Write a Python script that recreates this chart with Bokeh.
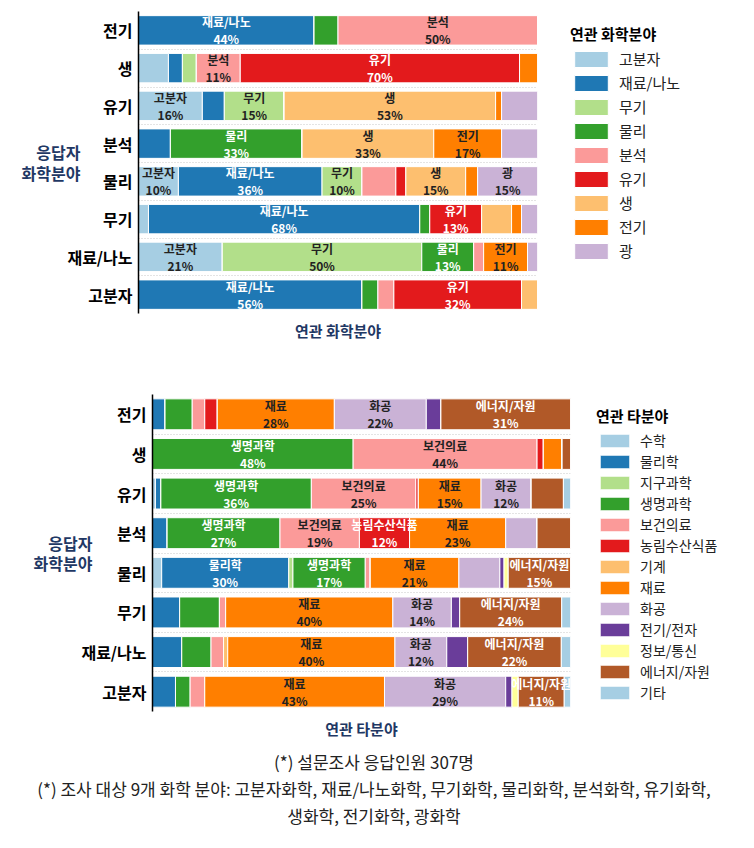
from bokeh.plotting import figure
from bokeh.models import (ColumnDataSource, Legend, LegendItem, Div, FactorRange,
                          Range1d, FixedTicker)
from bokeh.embed import file_html
from bokeh.resources import INLINE
from bokeh.core.properties import value

FONT = "Noto Sans CJK KR"
NAVY = "#1F3864"

# ---------------- data ----------------
rows = ["전기", "생", "유기", "분석", "물리", "무기", "재료/나노", "고분자"]

chem_fields = ["고분자", "재료/나노", "무기", "물리", "분석", "유기", "생", "전기", "광"]
chem_colors = ["#a6cee3", "#1f78b4", "#b2df8a", "#33a02c", "#fb9a99", "#e31a1c",
               "#fdbf6f", "#ff7f00", "#cab2d6"]
chem_elec = [0, 44, 0, 6, 50, 0, 0, 0, 0]
chem_bio = [7.5, 3.5, 3.5, 0, 11, 70, 0, 4.5, 0]
chem_org = [16, 5.5, 15, 0, 0, 0, 53, 1.5, 9]
chem_anal = [0, 8, 0, 33, 0, 0, 33, 17, 9]
chem_phys = [10, 36, 10, 0, 8.5, 2.5, 15, 3, 15]
chem_inorg = [2.5, 68, 0, 2.5, 0, 13, 7.5, 2.5, 4]
chem_mat = [21, 0, 50, 13, 2.5, 0, 0, 11, 2.5]
chem_poly = [0, 56, 0, 4, 4, 32, 4, 0, 0]

other_fields = ["수학", "물리학", "지구과학", "생명과학", "보건의료", "농림수산식품", "기계",
                "재료", "화공", "전기/전자", "정보/통신", "에너지/자원", "기타"]
other_colors = ["#a6cee3", "#1f78b4", "#b2df8a", "#33a02c", "#fb9a99", "#e31a1c",
                "#fdbf6f", "#ff7f00", "#cab2d6", "#6a3d9a", "#ffff99", "#b15928", "#a6cee3"]
other_elec = [0, 3, 0, 6.5, 3, 3, 0, 28, 22, 3.5, 0, 31, 0]
other_bio = [0, 0, 0, 48, 44, 1.5, 0, 4.5, 0, 0, 0, 2, 0]
other_org = [0.7, 1.3, 0, 36, 25, 0.6, 0, 15, 12, 0, 0, 7.7, 1.7]
other_anal = [0, 3.5, 0, 27, 19, 12, 0, 23, 7.5, 0, 0, 8, 0]
other_phys = [2.2, 30.4, 1, 17.3, 1.2, 0, 0, 21.2, 9.8, 1, 1, 14.9, 0]
other_inorg = [0, 6.5, 0, 9.5, 1.5, 0, 0, 40, 14, 2, 0, 24.4, 2.1]
other_mat = [0, 7, 0, 7, 3, 0, 1, 40, 12.4, 5, 0, 22.4, 2.2]
other_poly = [0, 5.5, 0, 3.5, 3.5, 0, 0, 43, 29, 1.5, 1.5, 11, 1.5]

chem_data = [chem_elec, chem_bio, chem_org, chem_anal, chem_phys, chem_inorg, chem_mat, chem_poly]
other_data = [other_elec, other_bio, other_org, other_anal, other_phys, other_inorg, other_mat, other_poly]

footnote_1 = "(*) 설문조사 응답인원 307명"
footnote_2 = "(*) 조사 대상 9개 화학 분야: 고분자화학, 재료/나노화학, 무기화학, 물리화학, 분석화학, 유기화학,"
footnote_3 = "생화학, 전기화학, 광화학"


def text_color(hexc):
    r, g, b = int(hexc[1:3], 16), int(hexc[3:5], 16), int(hexc[5:7], 16)
    return "white" if 0.299 * r + 0.587 * g + 0.114 * b < 140 else "#222222"


def make_chart(fields, colors, data, fw, fh, bl, br, bt, bb, xlabel, legend_title,
               gw, gh, gsp, lab_fs, leg_loc, ylab_standoff):
    src = {"row": rows}
    keys = ["f%d" % i for i in range(len(fields))]
    for i, k in enumerate(keys):
        src[k] = [d[i] for d in data]
    source = ColumnDataSource(src)

    p = figure(frame_width=fw, frame_height=fh, output_backend="svg", toolbar_location=None,
               y_range=FactorRange(factors=rows[::-1], range_padding=0),
               x_range=Range1d(0, 100),
               min_border_left=bl, min_border_right=br, min_border_top=bt,
               min_border_bottom=bb)
    p.outline_line_color = None
    rs = p.hbar_stack(keys, y="row", height=0.78, color=colors, source=source,
                      line_color="white", line_width=1)

    # labels in segments
    lx, ly, lt, lc = [], [], [], []
    for r, d in zip(rows, data):
        cum = 0
        for i, v in enumerate(d):
            if v >= 10:
                lx.append(cum + v / 2)
                ly.append(r)
                lt.append("%s\n%d%%" % (fields[i], round(v)))
                lc.append(text_color(colors[i]))
            cum += v
    p.text(x="x", y="y", text="t", text_color="c",
           source=ColumnDataSource(dict(x=lx, y=ly, t=lt, c=lc)),
           text_align="center", text_baseline="middle", text_font=value(FONT),
           text_font_style="bold", text_font_size="12px", text_line_height=1.0)

    p.xgrid.visible = False
    p.ygrid.ticker = FixedTicker(ticks=list(range(1, len(rows) + 1)))
    p.ygrid.grid_line_color = "#c8c8c8"
    p.ygrid.grid_line_dash = "1 2"
    p.ygrid.grid_line_width = 1

    p.yaxis.axis_line_color = "black"
    p.yaxis.axis_line_width = 1.5
    p.yaxis.major_tick_line_color = None
    p.yaxis.minor_tick_line_color = None
    p.yaxis.major_tick_out = 0
    p.yaxis.major_tick_in = 0
    p.yaxis.minor_tick_out = 0
    p.yaxis.major_label_text_font = FONT
    p.yaxis.major_label_text_font_style = "bold"
    p.yaxis.major_label_text_font_size = "16px"
    p.yaxis.major_label_text_color = "black"
    p.yaxis.major_label_standoff = 6
    p.yaxis.axis_label = "응답자\n화학분야"
    p.yaxis.axis_label_orientation = "horizontal"
    p.yaxis.axis_label_text_font = FONT
    p.yaxis.axis_label_text_font_style = "bold"
    p.yaxis.axis_label_text_font_size = "16px"
    p.yaxis.axis_label_text_color = NAVY
    p.yaxis.axis_label_text_align = "center"
    p.yaxis.axis_label_text_line_height = 0.85
    p.yaxis.axis_label_standoff = ylab_standoff

    p.xaxis.ticker = FixedTicker(ticks=[])
    p.xaxis.axis_line_color = None
    p.xaxis.major_tick_line_color = None
    p.xaxis.minor_tick_line_color = None
    p.xaxis.major_tick_out = 0
    p.xaxis.major_label_standoff = 0
    p.xaxis.axis_label = xlabel
    p.xaxis.axis_label_text_font = FONT
    p.xaxis.axis_label_text_font_style = "bold"
    p.xaxis.axis_label_text_font_size = "15px"
    p.xaxis.axis_label_text_color = NAVY
    p.xaxis.axis_label_standoff = 6

    items = [LegendItem(label=f, renderers=[r]) for f, r in zip(fields, rs)]
    leg = Legend(items=items, location=leg_loc, title=legend_title,
                 title_text_font=FONT, title_text_font_style="bold",
                 title_text_font_size="15px", title_text_color="black", title_standoff=4,
                 label_text_font=FONT, label_text_font_size=lab_fs,
                 label_text_color="#222222",
                 glyph_width=gw, glyph_height=gh, spacing=gsp, label_standoff=7,
                 padding=0, margin=0, border_line_color=None,
                 background_fill_alpha=0)
    p.add_layout(leg, "right")
    return p


p1 = make_chart(chem_fields, chem_colors, chem_data, 399, 302, 138, 201, 11, 37,
                "연관 화학분야", "연관 화학분야", 42, 20, 3, "15px", (33, 52), -16)
p2 = make_chart(other_fields, other_colors, other_data, 418, 317, 152, 168, 44, 30,
                "연관 타분야", "연관 타분야", 37, 17, 1, "14px", (26, 9), -14)

foot = Div(text=footnote_1 + "<br>" + footnote_2 + "<br>" + footnote_3,
           width=738, height=90,
           styles={"text-align": "center", "font-family": FONT, "font-size": "17px",
                   "line-height": "27px", "color": "#222222", "width": "738px",
                   "padding-top": "2px"})

open("out.html", "w").write(file_html([p1, p2, foot], INLINE))
